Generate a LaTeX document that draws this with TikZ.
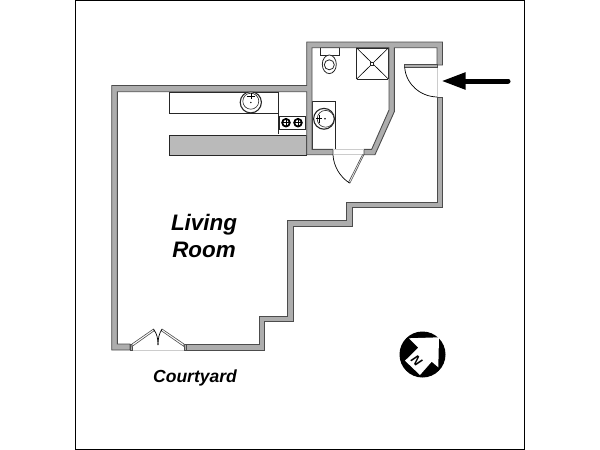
\documentclass[tikz,border=0pt]{standalone}
\usepackage{fontspec}
\setmainfont{Liberation Sans}
\usetikzlibrary{arrows.meta}
\definecolor{wallgray}{HTML}{ADADAD}
\definecolor{bargray}{HTML}{BABABA}
\tikzset{
  wall/.style={draw=black!70, fill=wallgray, line width=0.9pt},
  fixture/.style={draw=black!85, fill=white, line width=0.8pt},
  swing/.style={draw=black, line width=0.7pt},
  sill/.style={draw=black!20, line width=0.5pt},
  lbl/.style={align=center, inner sep=0pt}
}
\begin{document}
\begin{tikzpicture}[x=1pt,y=-1pt]
\useasboundingbox (0,0) rectangle (600,450);
\draw[line width=1pt] (75,0.5) rectangle (524,449);

% counters
\draw[fixture] (169,92) rectangle (278,113);
\draw[fixture] (278,92) -- (278,134);
\draw[fixture, fill=bargray] (169,135) rectangle (306.7,155);
% kitchen sink
\draw[fixture, line width=1.1pt] (250.8,102.3) circle (10.6);
\draw[fixture, line width=0.6pt] (250.8,101.2) circle (8);
\fill (250.8,102.5) circle (0.8);
\draw[line width=0.6pt] (250.8,93) -- (250.8,99) (246.5,96) -- (255,96);
% stove
\draw[fixture] (279.5,116) rectangle (305,129.5);
\foreach \x in {286,298} {
  \draw[line width=1.8pt] (\x,122.7) circle (3.8);
  \draw[line width=0.9pt] (\x-3.5,122.7) -- (\x+3.5,122.7) (\x,119.2) -- (\x,126.2);
}

% toilet and shower
\draw[fixture] (320,47.7) rectangle (339.3,55);
\draw[fixture] (329.3,64.3) ellipse (7 and 9.3);
\draw[fixture] (329.3,64.8) circle (5);
\draw[fixture, line width=1.5pt] (356.7,79) -- (356.7,48) -- (388.3,48) -- (388.3,79);
\draw[fixture, line width=0.8pt] (356.7,79) -- (388.3,79);
\draw[line width=0.6pt] (356.7,48) -- (388.3,79) (388.3,48) -- (356.7,79);
\draw[fixture] (370.2,62.5) rectangle (373.2,65.5);
% bath sink
\draw[fixture] (312,101) rectangle (335,149.3);
\draw[fixture, line width=1.1pt] (324,118.8) circle (10.4);
\draw[fixture, line width=0.6pt] (325.6,118.8) circle (8.4);
\fill (325,118.8) circle (0.9);
\draw[line width=0.7pt] (316,118.8) -- (322,118.8) (319.5,114.5) -- (319.5,123);

% walls
\draw[wall] (130,350) -- (111.7,350) -- (111.7,85.5) -- (306.7,85.5) -- (306.7,42) -- (442.5,42) -- (442.5,65) -- (437,65)
  -- (437,47.7) -- (394.3,47.7) -- (394.3,111.7) -- (375,154.7) -- (364,154.7) -- (364,149.3) -- (371.7,149.3)
  -- (389,110) -- (389,47.7) -- (312,47.7) -- (312,149.3) -- (333,149.3) -- (333,154.7) -- (306.7,154.7)
  -- (306.7,91.7) -- (117.3,91.7) -- (117.3,344) -- (130,344) -- cycle;
\draw[wall] (186,344) -- (259,344) -- (259,316) -- (287.7,316) -- (287.7,220.7) -- (346.7,220.7) -- (346.7,202.7) -- (437.3,202.7)
  -- (437.3,97) -- (442.5,97) -- (442.5,207.7) -- (352.3,207.7) -- (352.3,226) -- (293.3,226) -- (293.3,321.7) -- (264.3,321.7)
  -- (264.3,350) -- (186,350) -- cycle;

% entry door
\draw[sill] (437,65) -- (437,97);
\draw[wall] (404.7,64.7) rectangle (437,67.5);
\draw[swing] (404.7,67.5) .. controls (406,84) and (420,96.5) .. (437,97);
% bath door
\draw[sill] (333,149.3) -- (364,149.3) (333,154.7) -- (364,154.7);
\draw[wall, line width=0.6pt, fill=white] (364,154.7) -- (350,183) -- (348.5,182.3) -- (362.5,154.7) -- cycle;
\draw[swing] (333,154.7) .. controls (333.5,166) and (340,177) .. (349.5,183);
% french doors
\draw[sill] (130,350) -- (186,350);
\draw[wall] (130,344) rectangle (132,350);
\draw[wall] (184,344) rectangle (186,350);
\draw[wall, line width=0.6pt, fill=white] (132,344) -- (153.5,329) -- (154.5,330.5) -- (132,346.5) -- cycle;
\draw[wall, line width=0.6pt, fill=white] (184,344) -- (162,329) -- (161,330.5) -- (184,346.5) -- cycle;
\draw[swing] (153.5,329.5) .. controls (157,333) and (158,339) .. (158,345);
\draw[swing] (162,329.5) .. controls (159,333) and (158,339) .. (158,345);

% entrance arrow
\coordinate (arrowstart) at (508,81);
\coordinate (arrowend) at (441.5,81);
\draw[line width=5pt, line cap=round, -{Triangle[length=24pt,width=16pt]}] (arrowstart) -- (arrowend);

% north sign
\fill (422.5,354.5) circle (23);
\fill[white] (439,337.3) -- (409,338.3) -- (418.3,347.7) -- (405,360.7) -- (420,375) -- (431.7,361.7) -- (438.3,367.3) -- cycle;
\node[lbl, font=\fontsize{13}{13}\selectfont\bfseries\itshape, rotate=-45] (north) at (416.7,360.7) {N};

% labels
\node[lbl, font=\fontsize{22.4}{27}\selectfont\bfseries\itshape] (living) at (204,236) {Living\\Room};
\node[lbl, font=\fontsize{17.5}{20}\selectfont\bfseries\itshape] (courtyard) at (195,377.5) {Courtyard};
\end{tikzpicture}
\end{document}
